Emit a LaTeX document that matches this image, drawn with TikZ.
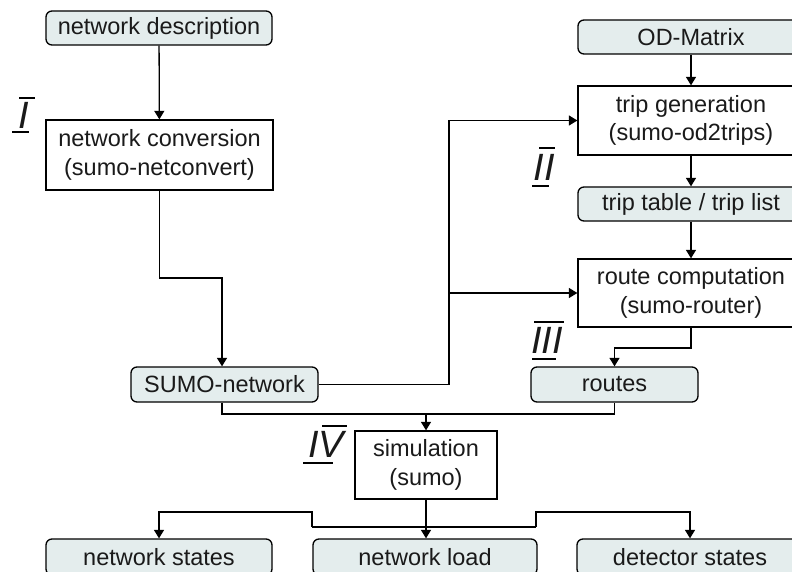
\documentclass[tikz,border=0pt]{standalone}
\usepackage{fontspec}
\setmainfont{Liberation Sans}
\usetikzlibrary{arrows.meta}
\definecolor{boxfill}{HTML}{E4EDED}
\definecolor{ink}{HTML}{1A1A1A}
\tikzset{
  base/.style={draw=black, line width=1.3pt, inner sep=0pt, align=center, text=ink,
    font=\fontsize{23.5}{28.5}\selectfont},
  databox/.style={base, fill=boxfill, rounded corners=6pt},
  procbox/.style={base, fill=white},
  conn/.style={line width=1.3pt, draw=black},
  arr/.style={conn, -{Triangle[width=10pt,length=8.5pt]}},
  roman/.style={inner sep=0pt, text=ink, font=\fontsize{38}{38}\selectfont\itshape},
  bar/.style={line width=1.3pt}
}
\begin{document}
\begin{tikzpicture}[x=1pt,y=-1pt]
\clip (0,0) rectangle (792,572);
\fill[white] (0,0) rectangle (792,572);
% nodes
\node[databox, minimum width=226pt, minimum height=34pt] (desc) at (159,28) {network description};
\node[procbox, minimum width=227pt, minimum height=70pt] (conv) at (159.5,155) {network conversion\\(sumo-netconvert)};
\node[databox, minimum width=187pt, minimum height=35pt] (sumonet) at (224.5,384.5) {SUMO-network};
\node[databox, minimum width=226pt, minimum height=34pt] (od) at (691,37) {OD-Matrix};
\node[procbox, minimum width=226pt, minimum height=69pt] (tripgen) at (691,120.5) {trip generation\\(sumo-od2trips)};
\node[databox, minimum width=226pt, minimum height=34pt] (triptable) at (691,204) {trip table / trip list};
\node[procbox, minimum width=226pt, minimum height=68pt] (routecomp) at (691,293) {route computation\\(sumo-router)};
\node[databox, minimum width=167pt, minimum height=35pt] (routes) at (614.5,384.5) {routes};
\node[procbox, minimum width=142pt, minimum height=68pt] (sim) at (426,465) {simulation\\(sumo)};
\node[databox, minimum width=226pt, minimum height=36pt] (nstates) at (159,557) {network states};
\node[databox, minimum width=224pt, minimum height=36pt] (nload) at (425,557) {network load};
\node[databox, minimum width=226pt, minimum height=36pt] (dstates) at (690,557) {detector states};
% junction coordinates
\coordinate (j1) at (222,278);
\coordinate (bus) at (449,384.5);
\coordinate (j3) at (614.5,348);
\coordinate (j4) at (426,414);
\coordinate (b1) at (312,527);
\coordinate (b2) at (536,527);
\coordinate (c1) at (312,512);
\coordinate (c2) at (536,512);
% connectors
\draw[arr] (desc) -- (conv);
\draw[arr] (conv.south) |- (j1) -- (j1 |- sumonet.north);
\draw[arr] (sumonet.east) -- (bus) |- (tripgen.west);
\draw[arr] (bus |- routecomp.west) -- (routecomp.west);
\draw[arr] (od) -- (tripgen);
\draw[arr] (tripgen) -- (triptable);
\draw[arr] (triptable) -- (routecomp);
\draw[arr] (routecomp.south) |- (j3) -- (routes.north);
\draw[conn] (j1 |- sumonet.south) |- (j4) -| (routes.south);
\draw[arr] (j4) -- (sim.north);
\draw[arr] (sim.south) -- (sim.south |- nload.north);
\draw[conn] (b1) -- (b2);
\draw[arr] (b1) -- (c1) -| (nstates.north);
\draw[arr] (b2) -- (c2) -| (dstates.north);
% roman numerals
\node[roman] (rI) at (24,115) {I};
\draw[bar] (19,98) -- (35,98);
\draw[bar] (12,132) -- (29,132);
\node[roman] (rII) at (544,167) {II};
\draw[bar] (539,148) -- (555,148);
\draw[bar] (532,186) -- (549,186);
\node[roman] (rIII) at (547,340) {III};
\draw[bar] (534,322) -- (564,322);
\draw[bar] (532,359) -- (556,359);
\node[roman] (rIV) at (326,444) {IV};
\draw[bar] (322,426) -- (347,426);
\draw[bar] (303,463) -- (333,463);
\end{tikzpicture}
\end{document}
